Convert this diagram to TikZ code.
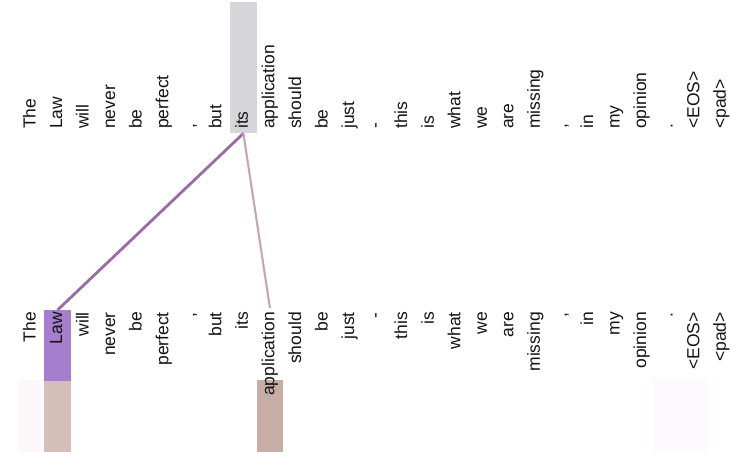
\documentclass[tikz,border=0pt]{standalone}
\usepackage{fontspec}
\setmainfont{Liberation Sans}
\definecolor{hlgray}{HTML}{D6D5DA}
\definecolor{hlpurple}{HTML}{A67ECD}
\definecolor{hltan}{HTML}{D6BFB8}
\definecolor{hlapp}{HTML}{C8ADA7}
\definecolor{hlfaint}{HTML}{FAF8F8}
\definecolor{hlfaintp}{HTML}{FDF9FD}
\definecolor{linepurple}{HTML}{9A6CA6}
\definecolor{linepink}{HTML}{C9A6AA}
\definecolor{txt}{HTML}{141414}
\begin{document}
\begin{tikzpicture}[x=1pt,y=-1pt,
  tok/.style={rotate=90, inner sep=0pt, text height=12.5pt, text depth=3.5pt,
    font=\fontsize{17.5}{17.5}\selectfont, text=txt},
  toptok/.style={tok, anchor=west},
  bottok/.style={tok, anchor=east},
  hl/.style={inner sep=0pt, minimum width=26.8pt, draw=none, anchor=north},
]
\useasboundingbox (0,0) rectangle (756,475);
\fill[white] (0,0) rectangle (756,475);
% highlight boxes
\node[hl, fill=hlgray, minimum height=131pt] (hits) at (243.4,2) {};
\node[hl, fill=hlpurple, minimum height=71pt] (hlaw) at (57.6,310) {};
\node[hl, fill=hltan, minimum height=71pt] (hlawb) at (57.6,381) {};
\node[hl, fill=hlapp, minimum height=72pt] (happ) at (270,380) {};
\node[hl, fill=hlfaint, minimum height=72pt] (hthe) at (31,380) {};
\node[hl, fill=hlfaintp, minimum height=74pt, minimum width=55pt] (heos) at (680,378) {};
% tokens
\foreach \w [count=\i from 0] in {The,Law,will,never,be,perfect,{,},but,its,application,should,be,just,-,this,is,what,we,are,missing,{,},in,my,opinion,.,<EOS>,<pad>} {
  \node[toptok] (t\i) at ({31+26.55*\i},129) {\w};
  \node[bottok] (b\i) at ({31+26.55*\i},312) {\w};
}
% attention lines
\draw[line width=2.8pt, color=linepurple] (hits.south) -- (hlaw.north);
\draw[line width=2.1pt, color=linepink] (hits.south) -- ([yshift=4pt]b9.east);
\end{tikzpicture}
\end{document}
